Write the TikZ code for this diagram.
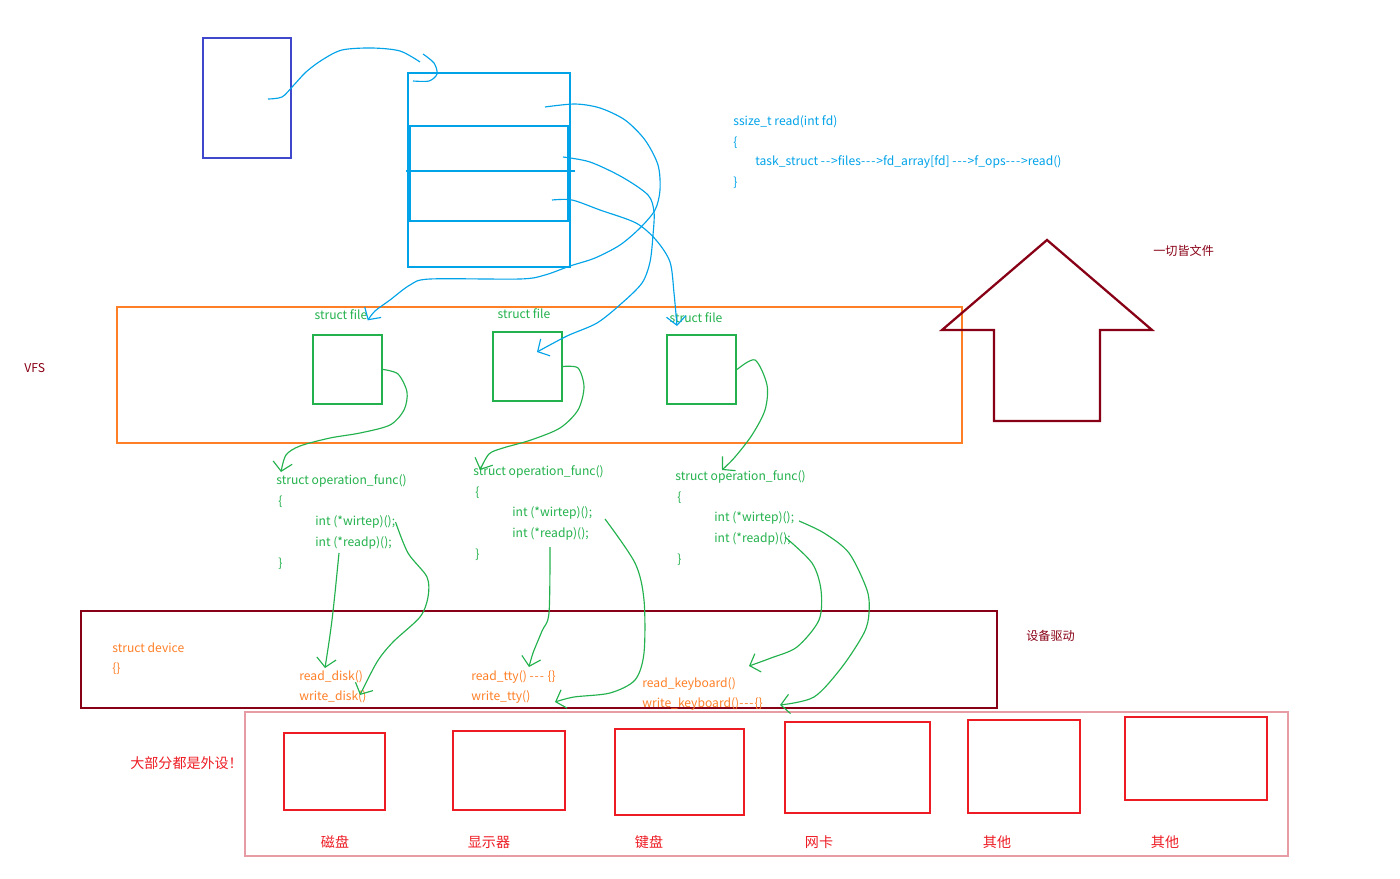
\documentclass[tikz,border=0pt]{standalone}
\usepackage{fontspec}
\setmainfont{Noto Sans CJK SC}
\usetikzlibrary{arrows.meta,fit,calc}
\definecolor{fdblue}{HTML}{00A2E8}
\definecolor{procblue}{HTML}{3F48CC}
\definecolor{filegreen}{HTML}{22B14C}
\definecolor{vfsorange}{HTML}{FF7F27}
\definecolor{drvred}{HTML}{880015}
\definecolor{hwred}{HTML}{ED1C24}
\definecolor{hwpink}{HTML}{E79BA5}
\newcommand\hy{-\kern0.5pt}
\tikzset{
  rbox/.style={draw,inner sep=0pt,line width=1.2pt},
  txt/.style={inner sep=0pt,anchor=west,font=\fontsize{6.9}{8}\selectfont},
  hand/.style={line width=0.65pt},
  handtip/.style={hand,-{Straight Barb[length=5pt,width=11pt]}},
}
\begin{document}
\begin{tikzpicture}[x=0.02cm,y=-0.02cm]
\useasboundingbox (0,0) rectangle (1400,879);
% task struct and fd table
\node[rbox,procblue,line width=1.4pt,fit={(203,38)(291,158)}] (task) {};
\node[rbox,fdblue,line width=1.4pt,fit={(408,73)(570,267)}] (fdtab) {};
\node[rbox,fdblue,line width=1.7pt,fit={(410,126)(568,221)}] (fdmid) {};
\draw[fdblue,line width=1.2pt] (406,171) -- (575,171);
\coordinate (taskptr) at (268,99);
\coordinate (slot0) at (545,107);
\coordinate (slot1) at (563,157);
\coordinate (slot2) at (552,200);
% read() path
\node[txt,fdblue] (sig) at (733,122) {ssize\_t read(int fd)};
\node[txt,fdblue] (sigl) at (733,143) {\{};
\node[txt,fdblue] (chain) at (755,162) {task\_struct \hy\hy>files\hy\hy\hy>fd\_array[fd] \hy\hy\hy>f\_ops\hy\hy\hy>read()};
\node[txt,fdblue] (sigr) at (733,183) {\}};
% VFS layer
\node[rbox,vfsorange,fit={(117,307)(962,443)}] (vfs) {};
\node[txt,drvred] (vfslbl) at (24,368) {VFS};
\foreach \n/\x/\y/\lx/\ly in {A/313/335/341/315, B/493/332/524/314, C/667/335/696/318}{
  \node[rbox,filegreen,fit={(\x,\y)({\x+69},{\y+69})}] (file\n) {};
  \node[txt,filegreen,anchor=center] (name\n) at (\lx,\ly) {struct file};
}
% operation tables
\foreach \n/\x/\y in {A/276/481, B/473/472, C/675/477}{
  \node[txt,filegreen] (ops\n) at (\x,\y) {struct operation\_func()};
  \node[txt,filegreen] (lb\n) at ({\x+2},{\y+21}) {\{};
  \node[txt,filegreen] (wr\n) at ({\x+39},{\y+41}) {int (*wirtep)();};
  \node[txt,filegreen] (rd\n) at ({\x+39},{\y+62}) {int (*readp)();};
  \node[txt,filegreen] (rb\n) at ({\x+2},{\y+83}) {\}};
}
% everything is a file
\draw[drvred,line width=1.3pt] (942,330) -- (1047,240) -- (1152,330) -- (1100,330) -- (1100,421) -- (994,421) -- (994,330) -- cycle;
\node[txt,drvred] (motto) at (1153,251) {一切皆文件};
% drivers
\node[rbox,drvred,line width=1.5pt,fit={(81,611)(997,708)}] (drv) {};
\node[txt,drvred] (drvlbl) at (1026,636) {设备驱动};
\node[txt,vfsorange] (dev) at (112,648) {struct device};
\node[txt,vfsorange] (devb) at (112,669) {\{\}};
\node[txt,vfsorange] (rdisk) at (299,677) {read\_disk()};
\node[txt,vfsorange] (wdisk) at (299,697) {write\_disk()};
\node[txt,vfsorange] (rtty) at (471,677) {read\_tty() \hy\hy\hy{} \{\}};
\node[txt,vfsorange] (wtty) at (471,697) {write\_tty()};
\node[txt,vfsorange] (rkbd) at (642,684) {read\_keyboard()};
\node[txt,vfsorange] (wkbd) at (642,704) {write\_keyboard()\hy\hy\hy\{\}};
% peripherals
\node[draw=hwpink,line width=0.6pt,inner sep=0pt,fit={(245,712)(1288,856)}] (hw) {};
\node[txt,hwred,font=\fontsize{8}{9}\selectfont] (hwlbl) at (130,763) {大部分都是外设！};
\foreach \n/\a/\b/\c/\d/\lx/\lbl in {1/284/733/385/810/335/磁盘, 2/453/731/565/810/489/显示器,
    3/615/729/744/815/649/键盘, 4/785/722/930/813/819/网卡, 5/968/720/1080/813/997/其他,
    6/1125/717/1267/800/1165/其他}{
  \node[rbox,hwred,line width=1.3pt,fit={(\a,\b)(\c,\d)}] (dev\n) {};
  \node[txt,hwred,anchor=center,font=\fontsize{8}{9}\selectfont] (devlbl\n) at (\lx,842) {\lbl};
}
% pointers task -> fd table -> files
\draw[hand,fdblue] plot[smooth] coordinates {(taskptr) (282,97) (293,86) (306,72) (322,60) (342,50) (372,48) (400,51) (420,62)};
\draw[hand,fdblue] plot[smooth] coordinates {(423,54) (434,63) (437,74) (429,81) (413,81)};
\draw[handtip,fdblue] plot[smooth] coordinates {(slot0) (575,104) (600,108) (625,120) (645,140) (658,165) (660,190) (655,210) (640,228) (620,245) (595,258) (570,266) (545,275) (520,279) (430,279) (410,285) (390,300) (375,311) (nameA.south east)};
\draw[handtip,fdblue] plot[smooth] coordinates {(slot1) (590,162) (622,177) (648,195) (654,212) (653,235) (650,262) (642,283) (622,303) (597,323) (567,336) (537,352)};
\draw[handtip,fdblue] plot[smooth] coordinates {(slot2) (572,200) (600,210) (636,223) (656,240) (670,262) (674,293) (677,326)};
% files -> operation tables
\draw[handtip,filegreen] plot[smooth] coordinates {(fileA.east) (398,374) (407,392) (404,410) (390,425) (360,433) (330,438) (300,446) (286,455) (281,472)};
\draw[handtip,filegreen] plot[smooth] coordinates {(fileB.east) (578,368) (584,387) (578,410) (560,428) (531,440) (503,448) (489,454) (480,470)};
\draw[handtip,filegreen] plot[smooth] coordinates {(fileC.east) (755,360) (767,385) (765,410) (752,435) (735,457) (722,470)};
% operation tables -> drivers
\draw[handtip,filegreen] plot[smooth] coordinates {(339,553) (335,593) (332,620) (329,642) (325,668)};
\draw[handtip,filegreen] plot[smooth] coordinates {(wrA.east) (408,553) (427,577) (428,597) (420,617) (393,642) (377,662) (360,695)};
\draw[handtip,filegreen] plot[smooth] coordinates {(550,547) (549,613) (542,631) (533,653) (529,667)};
\draw[handtip,filegreen] plot[smooth] coordinates {(605,519) (635,563) (644,600) (644,653) (635,680) (610,693) (574,697) (555,702)};
\draw[handtip,filegreen] plot[smooth] coordinates {(785,537) (812,563) (821,590) (819,620) (797,647) (771,658) (749,666)};
\draw[handtip,filegreen] plot[smooth] coordinates {(799,521) (824,533) (849,553) (867,590) (869,613) (864,633) (842,667) (814,697) (780,705)};
\end{tikzpicture}
\end{document}
